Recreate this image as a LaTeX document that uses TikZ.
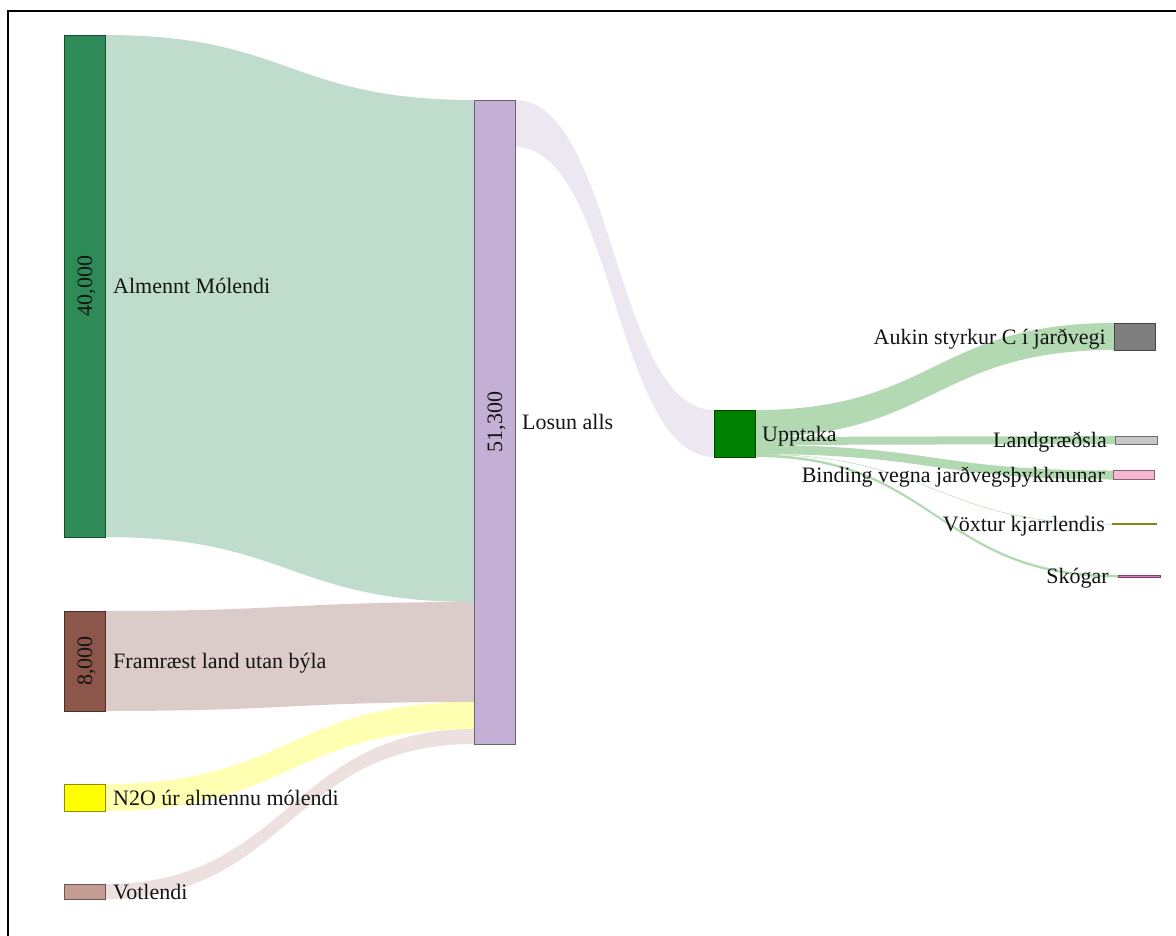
\documentclass[tikz,border=0pt]{standalone}
\usepackage{fontspec}
\setmainfont{Liberation Serif}
\usetikzlibrary{calc}

% node colours
\definecolor{cAlm}{HTML}{2E8B57}
\definecolor{cFra}{HTML}{8C564B}
\definecolor{cNtwo}{HTML}{FFFF00}
\definecolor{cVot}{HTML}{C49C94}
\definecolor{cLos}{HTML}{C5B0D5}
\definecolor{cUpp}{HTML}{008000}
\definecolor{cAuk}{HTML}{7F7F7F}
\definecolor{cLan}{HTML}{C7C7C7}
\definecolor{cBin}{HTML}{F7B6D2}
\definecolor{cVox}{HTML}{BCBD22}
\definecolor{cSko}{HTML}{E377C2}

\pgfdeclarelayer{flows}
\pgfsetlayers{flows,main}

\tikzset{
  snode/.style={draw=#1!55!black, fill=#1, line width=0.8pt, inner sep=0pt,
                outer sep=0pt, anchor=north west, minimum width=41pt},
  lab/.style={font=\fontsize{22}{26}\selectfont, text=black!92, inner sep=0pt},
  labR/.style={lab, anchor=base west},
  labL/.style={lab, anchor=base east},
  val/.style={lab, rotate=90, anchor=base},
  band/.style={fill=#1, fill opacity=0.3},
}

% flow band: source node, offset below its top, target node, offset below its top, width, colour
\newcommand\sband[6]{%
  \fill[band=#6] let \p1=(#1.north east), \p2=(#3.north west),
                     \p3=($(\p1)!.5!(\p2)$) in
    (\x1,\y1-#2pt) .. controls (\x3,\y1-#2pt) and (\x3,\y2-#4pt) .. (\x2,\y2-#4pt)
    -- (\x2,\y2-#4pt-#5pt)
    .. controls (\x3,\y2-#4pt-#5pt) and (\x3,\y1-#2pt-#5pt) .. (\x1,\y1-#2pt-#5pt)
    -- cycle;}

\begin{document}
\begin{tikzpicture}[x=1pt,y=-1pt]
\useasboundingbox (0,0) rectangle (1176,935);
\clip (0,0) rectangle (1176,935);

% outer frame
\draw[line width=2pt] (8.3,11.3) rectangle (1300,1100);

% nodes
\node[snode=cAlm, minimum height=502pt] (alm) at (64,35) {};
\node[snode=cFra, minimum height=100pt] (fra) at (64,611) {};
\node[snode=cNtwo, minimum height=27pt] (ntwo) at (64,784) {};
\node[snode=cVot, minimum height=15pt] (vot) at (64,884) {};
\node[snode=cLos, minimum height=644pt] (los) at (474,100) {};
\node[snode=cUpp, minimum height=47pt] (upp) at (714,410) {};
\node[snode=cAuk, minimum height=27pt] (auk) at (1114,323) {};
\node[snode=cLan, minimum height=8pt, minimum width=42pt] (lan) at (1115,436) {};
\node[snode=cBin, minimum height=9pt] (bin) at (1113,470.5) {};
\node[snode=cVox, minimum height=0.5pt, minimum width=43pt, draw=cVox!70!black, line width=1.2pt] (vox) at (1113,524) {};
\node[snode=cSko, minimum height=2.5pt, minimum width=42pt] (sko) at (1118,575) {};

% flows, kept beneath the nodes
\begin{pgfonlayer}{flows}
\sband{alm}{0}{los}{0}{502}{cAlm}
\sband{fra}{0}{los}{502}{100}{cFra}
\sband{ntwo}{0}{los}{602}{27}{cNtwo}
\sband{vot}{0}{los}{629}{15}{cVot}
\sband{los}{0}{upp}{0}{47}{cLos}
\sband{upp}{0}{auk}{0}{27}{cUpp}
\sband{upp}{27}{lan}{0}{8}{cUpp}
\sband{upp}{35}{bin}{0}{9}{cUpp}
\sband{upp}{44}{vox}{0}{0.5}{cUpp}
\sband{upp}{44.5}{sko}{0}{2.5}{cUpp}
\end{pgfonlayer}

% values
\node[val] (valAlm) at ([xshift=7.7pt]alm.center) {40,000};
\node[val] (valFra) at ([xshift=7.7pt]fra.center) {8,000};
\node[val] (valLos) at ([xshift=7.7pt]los.center) {51,300};

% names
\node[labR] (tAlm) at ([xshift=8pt,yshift=-7.7pt]alm.east) {Almennt Mólendi};
\node[labR] (tFra) at ([xshift=8pt,yshift=-7.7pt]fra.east) {Framræst land utan býla};
\node[labR] (tNtwo) at ([xshift=8pt,yshift=-7.7pt]ntwo.east) {N2O úr almennu mólendi};
\node[labR] (tVot) at ([xshift=8pt,yshift=-7.7pt]vot.east) {Votlendi};
\node[labR] (tLos) at ([xshift=7pt,yshift=-7.7pt]los.east) {Losun alls};
\node[labR] (tUpp) at ([xshift=7pt,yshift=-7.7pt]upp.east) {Upptaka};
\node[labL] (tAuk) at ([xshift=-8pt,yshift=-7.7pt]auk.west) {Aukin styrkur C í jarðvegi};
\node[labL] (tLan) at ([xshift=-8pt,yshift=-7.7pt]lan.west) {Landgræðsla};
\node[labL] (tBin) at ([xshift=-8pt,yshift=-7.7pt]bin.west) {Binding vegna jarðvegsþykknunar};
\node[labL] (tVox) at ([xshift=-8pt,yshift=-7.7pt]vox.west) {Vöxtur kjarrlendis};
\node[labL] (tSko) at ([xshift=-9pt,yshift=-7.7pt]sko.west) {Skógar};
\end{tikzpicture}
\end{document}
